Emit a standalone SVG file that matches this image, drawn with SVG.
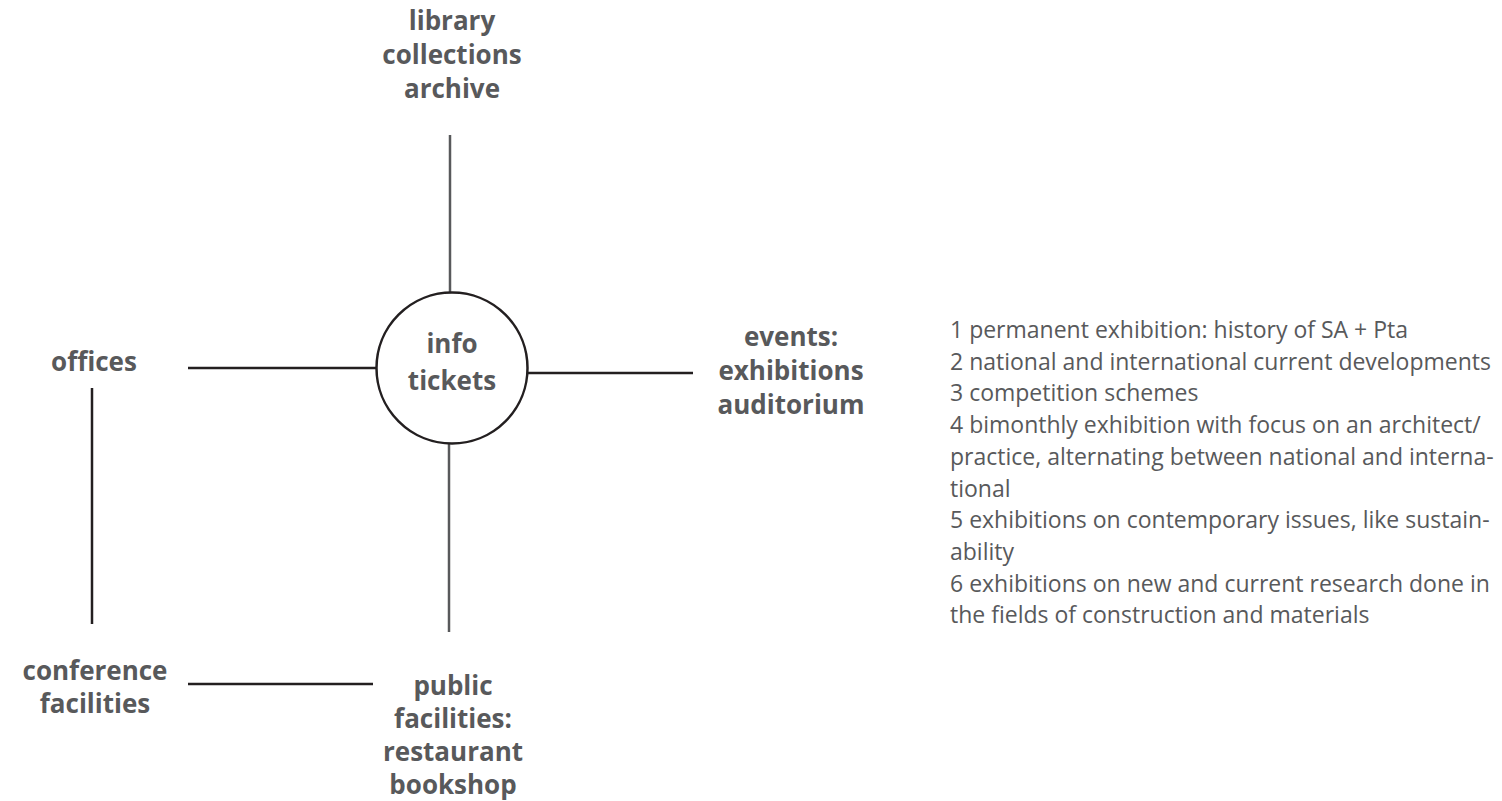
<svg xmlns="http://www.w3.org/2000/svg" width="1502" height="801" viewBox="0 0 1502 801">
<style>
.lbl{font-family:"Open Sans",Lato,"Liberation Sans",sans-serif;font-weight:bold;font-size:26px;fill:#58595b;text-anchor:middle}
.lst{font-family:"Open Sans",Lato,"Liberation Sans",sans-serif;font-size:23px;fill:#58595b}
.ln{stroke:#231f20;stroke-width:2.5;fill:none}
.lg{stroke:#58595b;stroke-width:2.5;fill:none}
</style>
<rect width="1502" height="801" fill="#ffffff"/>
<g id="connectors">
<line class="lg" x1="450" y1="135" x2="450" y2="293"/>
<line class="ln" x1="188" y1="368" x2="377" y2="368"/>
<line class="ln" x1="528" y1="373" x2="693" y2="373"/>
<line class="lg" x1="449" y1="444" x2="449" y2="632"/>
<line class="ln" x1="92" y1="388" x2="92" y2="624"/>
<line class="ln" x1="188" y1="684" x2="373" y2="684"/>
</g>
<g id="hub">
<circle cx="452" cy="368" r="75.5" fill="#ffffff" stroke="#231f20" stroke-width="2.5"/>
<text class="lbl" x="452" y="353">info</text>
<text class="lbl" x="452" y="390">tickets</text>
</g>
<g id="library">
<text class="lbl" x="452" y="30">library</text>
<text class="lbl" x="452" y="64">collections</text>
<text class="lbl" x="452" y="98">archive</text>
</g>
<g id="offices">
<text class="lbl" x="94" y="371">offices</text>
</g>
<g id="events">
<text class="lbl" x="791" y="346">events:</text>
<text class="lbl" x="791" y="380">exhibitions</text>
<text class="lbl" x="791" y="414">auditorium</text>
</g>
<g id="conference">
<text class="lbl" x="95" y="680">conference</text>
<text class="lbl" x="95" y="713">facilities</text>
</g>
<g id="public">
<text class="lbl" x="453" y="695">public</text>
<text class="lbl" x="453" y="728">facilities:</text>
<text class="lbl" x="453" y="761">restaurant</text>
<text class="lbl" x="453" y="794">bookshop</text>
</g>
<g id="notes">
<text class="lst" x="950" y="338">1 permanent exhibition: history of SA + Pta</text>
<text class="lst" x="950" y="369.7">2 national and international current developments</text>
<text class="lst" x="950" y="401.4">3 competition schemes</text>
<text class="lst" x="950" y="433.1">4 bimonthly exhibition with focus on an architect/</text>
<text class="lst" x="950" y="464.8">practice, alternating between national and interna-</text>
<text class="lst" x="950" y="496.5">tional</text>
<text class="lst" x="950" y="528.2">5 exhibitions on contemporary issues, like sustain-</text>
<text class="lst" x="950" y="559.9">ability</text>
<text class="lst" x="950" y="591.6">6 exhibitions on new and current research done in</text>
<text class="lst" x="950" y="623.3">the fields of construction and materials</text>
</g>
</svg>
